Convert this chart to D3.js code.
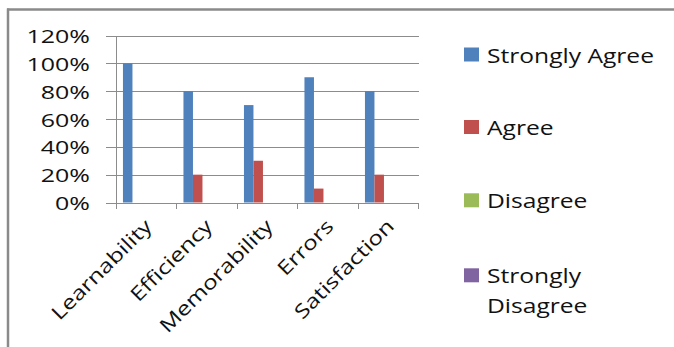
<!DOCTYPE html>
<html>
<head>
<meta charset="utf-8">
<script src="https://cdn.jsdelivr.net/npm/d3@7"></script>
<style>
  html, body { margin: 0; padding: 0; background: #fff; }
  svg { display: block; }
  text { font-family: "Open Sans", "Noto Sans", sans-serif; fill: #111; }
</style>
</head>
<body>
<svg id="chart" width="674" height="347"></svg>
<script>
// Survey results per usability attribute
const categories = ["Learnability", "Efficiency", "Memorability", "Errors", "Satisfaction"];
const seriesNames = ["Strongly Agree", "Agree", "Disagree", "Strongly Disagree"];
const stronglyAgree = [1.00, 0.80, 0.70, 0.90, 0.80];
const agree = [0.00, 0.20, 0.30, 0.10, 0.20];
const disagree = [0, 0, 0, 0, 0];
const stronglyDisagree = [0, 0, 0, 0, 0];
const yTicks = [0, 0.2, 0.4, 0.6, 0.8, 1.0, 1.2];
const colors = ["#4F81BD", "#C0504D", "#9BBB59", "#8064A2"];

const seriesValues = [stronglyAgree, agree, disagree, stronglyDisagree];

const svg = d3.select("#chart");
svg.append("rect").attr("width", 674).attr("height", 347).attr("fill", "#fff");

// outer frame (top and left edges)
svg.append("line").attr("x1", 7).attr("x2", 674).attr("y1", 9.5).attr("y2", 9.5)
  .attr("stroke", "#8a8a8a").attr("stroke-width", 2.5);
svg.append("line").attr("x1", 8).attr("x2", 8).attr("y1", 8.5).attr("y2", 347)
  .attr("stroke", "#8a8a8a").attr("stroke-width", 2.5);

const plot = { left: 116, right: 418.5, top: 35.5, bottom: 202.5 };

const x0 = d3.scaleBand().domain(categories).range([plot.left, plot.right]).padding(0);
const bw = x0.bandwidth();
const x1 = d3.scaleBand().domain(seriesNames).range([bw * 0.115, bw * 0.115 + 38]).padding(0);
const y = d3.scaleLinear().domain([0, 1.2]).range([plot.bottom, plot.top]);

// gridlines with outside tick stubs
const yAxis = d3.axisLeft(y).tickValues(yTicks).tickSize(-(plot.right - plot.left)).tickFormat("");
const gy = svg.append("g").attr("transform", `translate(${plot.left},0)`).call(yAxis);
gy.select(".domain").remove();
gy.selectAll(".tick line").attr("stroke", "#8c8c8c").attr("stroke-width", 1)
  .attr("x1", -10).attr("shape-rendering", "crispEdges");

// y value labels
svg.append("g").selectAll("text").data(yTicks).join("text")
  .attr("transform", d => `translate(90,${y(d) + 7.5}) scale(1.35,1)`)
  .attr("text-anchor", "end")
  .attr("font-size", 18.5)
  .text(d => d3.format(".0%")(d));

// value axis line
svg.append("line").attr("x1", plot.left).attr("x2", plot.left)
  .attr("y1", plot.top).attr("y2", plot.bottom + 6)
  .attr("stroke", "#8c8c8c").attr("shape-rendering", "crispEdges");

// category boundary ticks
const boundaries = categories.map(c => x0(c)).concat([plot.right]);
svg.append("g").selectAll("line").data(boundaries.slice(1)).join("line")
  .attr("x1", d => d).attr("x2", d => d)
  .attr("y1", plot.bottom).attr("y2", plot.bottom + 6)
  .attr("stroke", "#8c8c8c").attr("shape-rendering", "crispEdges");

// bars
const groups = svg.append("g").selectAll("g").data(categories).join("g")
  .attr("transform", c => `translate(${x0(c)},0)`);
groups.selectAll("rect")
  .data((c, i) => seriesNames.map((s, k) => ({ s, k, v: seriesValues[k][i] })))
  .join("rect")
  .attr("x", d => x1(d.s))
  .attr("width", x1.bandwidth())
  .attr("y", d => y(d.v))
  .attr("height", d => y(0) - y(d.v))
  .attr("fill", d => colors[d.k]);

// rotated category labels
svg.append("g").selectAll("text").data(categories).join("text")
  .attr("transform", c => `translate(${x0(c) + bw / 2 + 7},${plot.bottom + 25}) rotate(-45) scale(1.25,1)`)
  .attr("text-anchor", "end")
  .attr("font-size", 19.5)
  .text(c => c);

// legend
const legendRows = [
  { lines: ["Strongly Agree"], y: 62.5 },
  { lines: ["Agree"], y: 135 },
  { lines: ["Disagree"], y: 208.3 },
  { lines: ["Strongly", "Disagree"], y: 283.3 }
];
const lg = svg.append("g").selectAll("g").data(legendRows).join("g");
lg.append("rect")
  .attr("x", 464).attr("y", d => d.y - 15).attr("width", 15).attr("height", 14)
  .attr("fill", (d, i) => colors[i]);
lg.each(function (d) {
  d3.select(this).selectAll("text").data(d.lines).join("text")
    .attr("transform", (t, j) => `translate(487,${d.y + j * 30}) scale(1.2,1)`)
    .attr("font-size", 20.5)
    .text(t => t);
});
</script>
</body>
</html>
